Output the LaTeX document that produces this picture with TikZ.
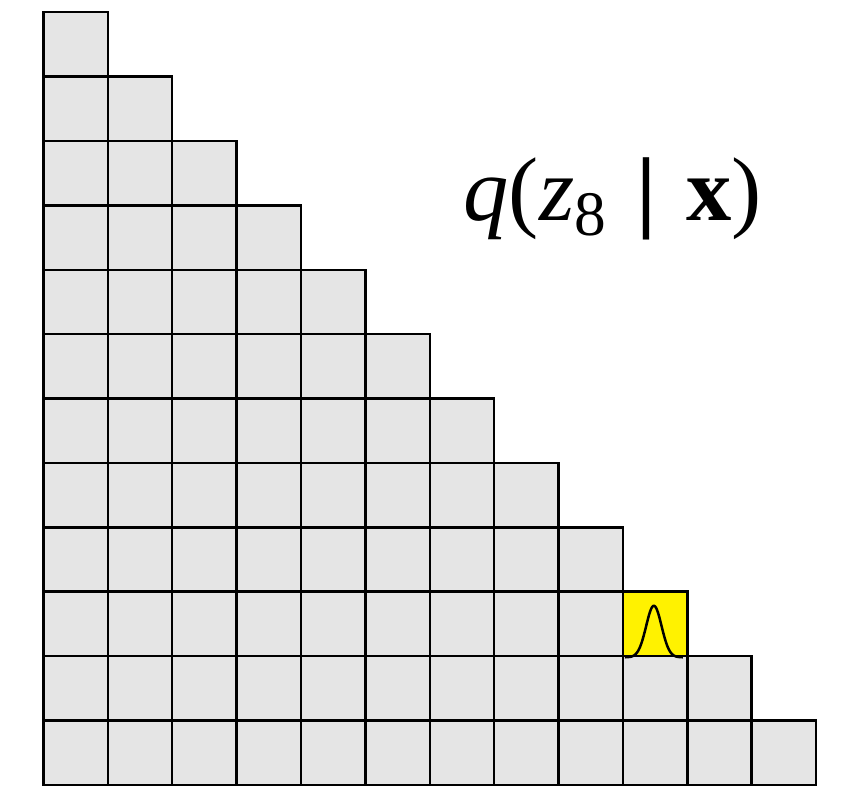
\documentclass[tikz,border=0pt]{standalone}
\usepackage{fontspec}
\setmainfont{Liberation Serif}
\usepackage{tikz}
\usetikzlibrary{positioning,calc}

\begin{document}
\begin{tikzpicture}[
    cell/.style={rectangle, draw=black, fill=#1, line width=1.1pt, minimum size=1cm, inner sep=0pt},
    cell/.default={gray!20},
    gauss/.style={line width=1.1pt, black},
  ]
    \useasboundingbox (-0.675,-0.05) rectangle (12.465,12.19);

    % staircase of cells, row r has r cells
    \foreach \r in {1,...,12} {
      \foreach \c in {1,...,\r} {
        \node[cell] (c\r-\c) at (\c-0.5, 12.5-\r) {};
      }
    }

    % highlighted cell
    \node[cell=yellow] (c10-10) at (9.5, 2.5) {};
    \begin{scope}[shift={(c10-10.south west)}]
      \draw[gauss] plot[domain=0.05:0.95, samples=80, smooth] (\x, {0.8*exp(-((\x-0.5)^2)/(2*0.12^2))});
    \end{scope}

    % label
    \node[font=\fontsize{40}{44}\selectfont, anchor=center] (label) at (8.84, 9.1)
      {\textit{q}(\textit{z}\raisebox{-0.35ex}{\fontsize{28}{30}\selectfont 8}\,\,\textbf{|}\,\,\textbf{x})};

  \end{tikzpicture}
\end{document}
